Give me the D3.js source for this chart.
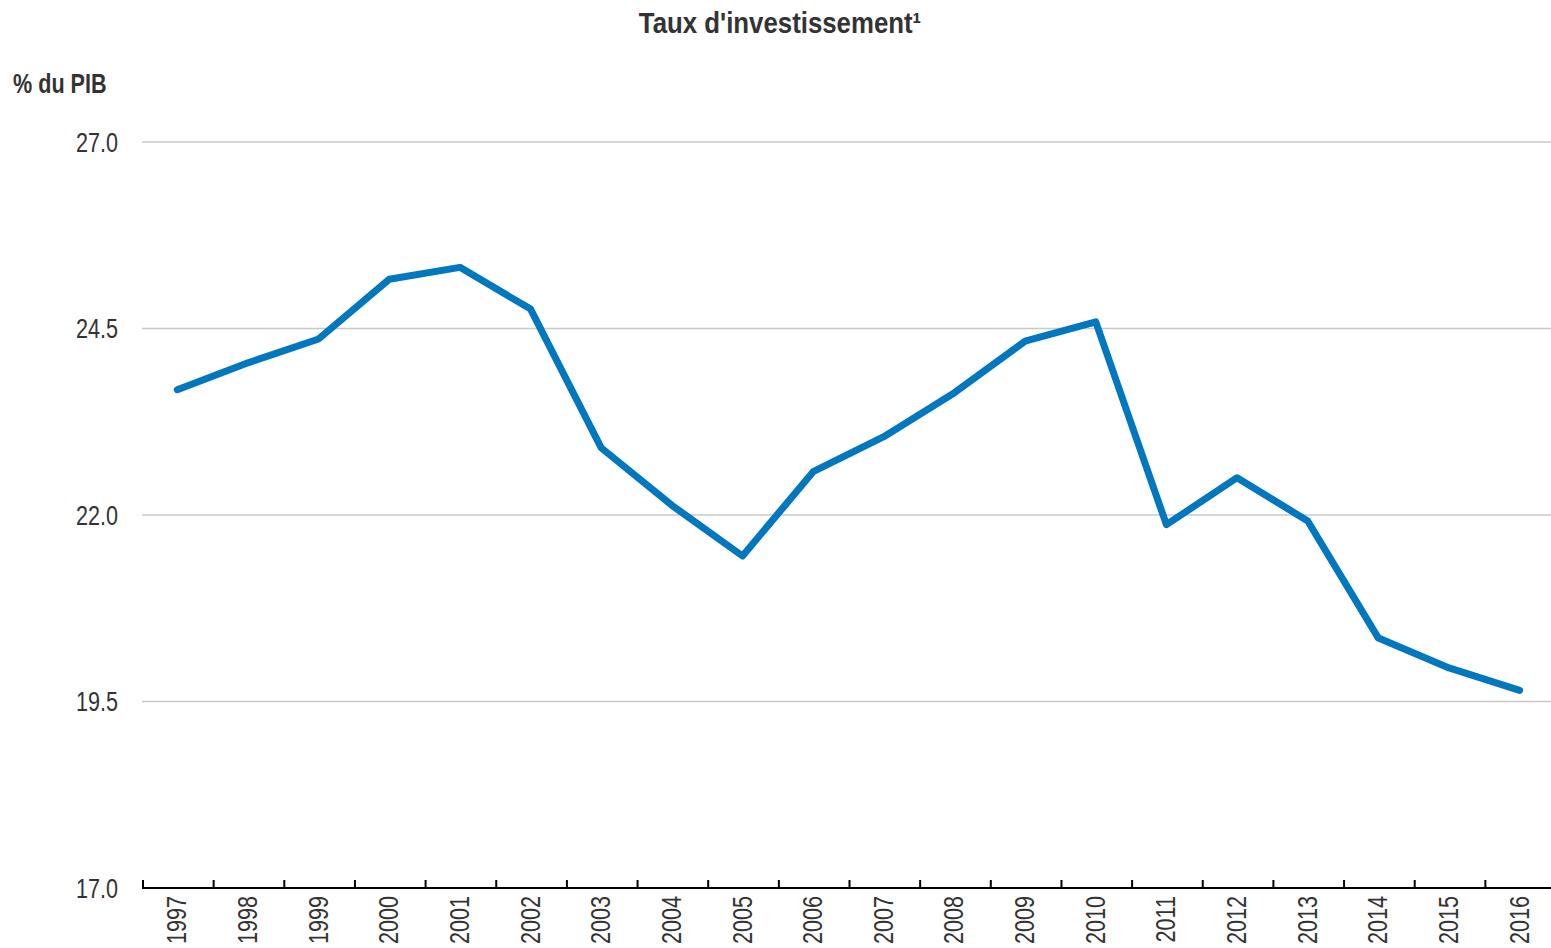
<!DOCTYPE html>
<html><head><meta charset="utf-8">
<script src="https://cdn.jsdelivr.net/npm/d3@7"></script>
<style>
body{margin:0;background:#fff;}
svg{display:block;font-family:"Liberation Sans Narrow","Arial Narrow","Liberation Sans",Arial,sans-serif;}
</style></head><body>
<svg id="c" width="1551" height="948"></svg>
<script>
const years = ["1997","1998","1999","2000","2001","2002","2003","2004","2005","2006","2007","2008","2009","2010","2011","2012","2013","2014","2015","2016"];
const values = [23.68,24.04,24.36,25.16,25.32,24.76,22.90,22.13,21.45,22.58,23.05,23.64,24.33,24.59,21.87,22.50,21.92,20.35,19.95,19.65];
const yTicks = [17.0,19.5,22.0,24.5,27.0];
const title = "Taux d'investissement¹";
const yLabel = "% du PIB";

const SX = 0.8; // emulate condensed font
const svg = d3.select("#c");
const x = d3.scaleBand().domain(years).range([142,1555]);
const y = d3.scaleLinear().domain([17,27]).range([888,142]);

svg.append("text").attr("transform",`translate(780,33) scale(0.89,1)`).attr("text-anchor","middle")
  .attr("font-size",29).attr("font-weight","bold").attr("fill","#333").text(title);
svg.append("text").attr("transform",`translate(13,93) scale(${SX},1)`)
  .attr("font-size",27).attr("font-weight","bold").attr("fill","#333").text(yLabel);

// grid
svg.append("g").selectAll("line").data(yTicks.filter(d=>d>17)).join("line")
  .attr("x1",142).attr("x2",1551).attr("y1",d=>y(d)).attr("y2",d=>y(d))
  .attr("stroke","#c8c8c8").attr("stroke-width",1.5);

// y labels
svg.append("g").selectAll("text").data(yTicks).join("text")
  .attr("transform",d=>`translate(118,${y(d)+9.5}) scale(${SX},1)`).attr("text-anchor","end")
  .attr("font-size",27).attr("fill","#333").text(d=>d.toFixed(1));

// x axis
const xa = svg.append("g");
xa.append("line").attr("x1",142).attr("x2",1551).attr("y1",888).attr("y2",888)
  .attr("stroke","#000").attr("stroke-width",2);
const bounds = years.map(d=>x(d));
xa.selectAll("line.t").data(bounds).join("line").attr("class","t")
  .attr("x1",d=>d+1).attr("x2",d=>d+1).attr("y1",888).attr("y2",880)
  .attr("stroke","#000").attr("stroke-width",2);
xa.selectAll("text").data(years).join("text")
  .attr("transform",d=>`translate(${x(d)+x.bandwidth()/2+9},896) rotate(-90) scale(${SX},1)`)
  .attr("text-anchor","end").attr("font-size",27).attr("fill","#333").text(d=>d);

// line
const line = d3.line().x((d,i)=>x(years[i])+x.bandwidth()/2).y(d=>y(d));
svg.append("path").datum(values).attr("d",line).attr("fill","none")
  .attr("stroke","#0077bf").attr("stroke-width",7).attr("stroke-linejoin","round").attr("stroke-linecap","round");
</script>
</body></html>
